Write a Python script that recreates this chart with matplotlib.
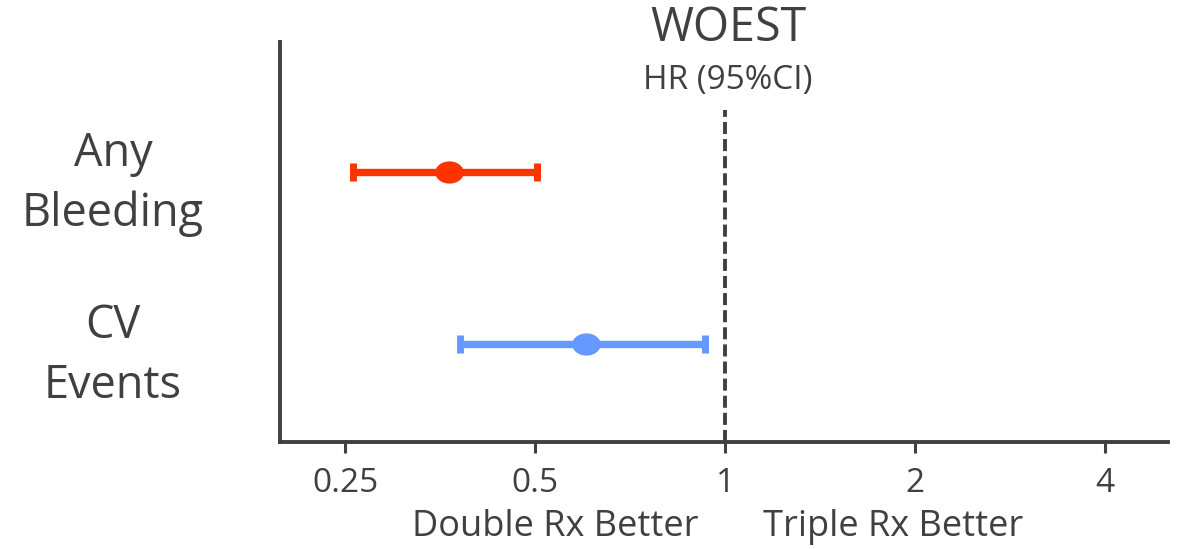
import numpy as np
import matplotlib
matplotlib.use("Agg")
from matplotlib import pyplot as plt
from matplotlib.path import Path

plt.rcParams['font.family'] = ['Open Sans', 'DejaVu Sans']

outcomes = ["Any\nBleeding", "CV\nEvents"]
hr = [0.365, 0.602]
ci_low = [0.257, 0.380]
ci_high = [0.504, 0.930]
colors = ['#FF3300', '#6699FF']
xticks = [0.25, 0.5, 1, 2, 4]
xticklabels = ['0.25', '0.5', '1', '2', '4']

txt = '#404040'
ypos = [1, 0]

# ellipse marker (wider than tall)
circ = Path.unit_circle()
ell = Path(circ.vertices * np.array([1.3, 1.0]), circ.codes)

f = plt.figure(figsize=(11.82, 5.49), dpi=100)
ax = f.add_axes([280 / 1182, 1 - 442 / 549, (1168 - 280) / 1182, 400 / 549])

for i in range(len(outcomes)):
    ax.errorbar(hr[i], ypos[i],
                xerr=[[hr[i] - ci_low[i]], [ci_high[i] - hr[i]]],
                fmt='none', ecolor=colors[i], elinewidth=5.3,
                capsize=6.8, capthick=5)
    ax.plot(hr[i], ypos[i], marker=ell, markersize=19.5, color=colors[i],
            linestyle='none')

ax.vlines(1, -0.57, 1.36, colors=txt, linestyles=(0, (3.1, 1.3)), linewidth=2.8)

ax.set_xscale('log', base=2)
ax.set_xlim(0.197, 5.03)
ax.set_ylim(-0.57, 1.756)
ax.set_xticks(xticks)
ax.set_xticklabels(xticklabels)
ax.minorticks_off()
ax.tick_params(axis='x', labelsize=24, colors=txt, length=8, width=2.2, pad=10)
ax.set_yticks([])

ax.spines['right'].set_visible(False)
ax.spines['top'].set_visible(False)
ax.spines['left'].set_linewidth(2.8)
ax.spines['bottom'].set_linewidth(2.8)
ax.spines['left'].set_color(txt)
ax.spines['bottom'].set_color(txt)

for i, lab in enumerate(outcomes):
    ax.text(-0.188, ypos[i] - 0.07, lab, transform=ax.get_yaxis_transform(),
            ha='center', va='center', fontsize=32.5, color=txt, linespacing=1.4)

f.text(728 / 1182, 1 - 28 / 549, 'WOEST', ha='center', va='center', fontsize=33.5, color=txt)
f.text(728 / 1182, 1 - 80 / 549, 'HR (95%CI)', ha='center', va='center', fontsize=24, color=txt)
f.text(555 / 1182, 1 - 527 / 549, 'Double Rx Better', ha='center', va='center', fontsize=26, color=txt)
f.text(893 / 1182, 1 - 527 / 549, 'Triple Rx Better', ha='center', va='center', fontsize=26, color=txt)

f.savefig("out.png", dpi=100)
